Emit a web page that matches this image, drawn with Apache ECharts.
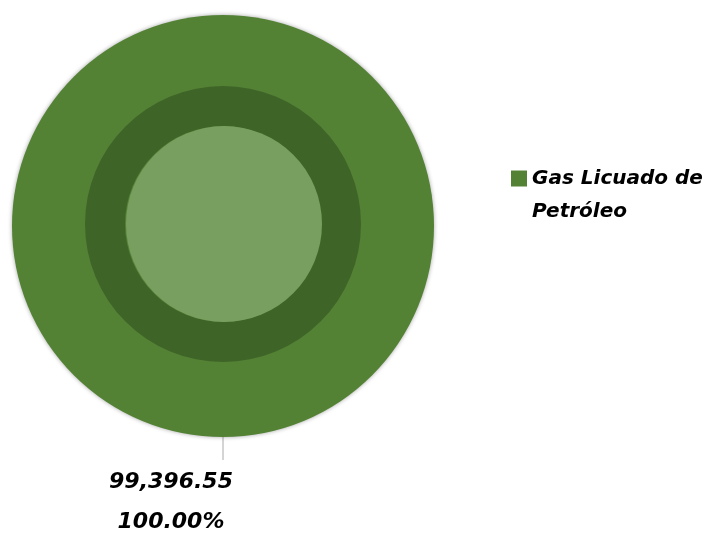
<!DOCTYPE html>
<html><head><meta charset="utf-8">
<script src="https://cdn.jsdelivr.net/npm/echarts@6/dist/echarts.min.js"></script>
<style>html,body{margin:0;padding:0;background:#fff}#c{width:725px;height:535px}</style>
</head><body><div id="c"></div>
<script>
const categories = ['Gas Licuado de Petróleo'];
const values = [99396.55];
const colors = ['#548235'];

const data = categories.map((n, i) => ({ name: n, value: values[i] }));
const fmt = v => v.toLocaleString('en-US', { minimumFractionDigits: 2, maximumFractionDigits: 2 });
const FONT = '"DejaVu Sans", sans-serif';

const chart = echarts.init(document.getElementById('c'));
chart.setOption({
  animation: false,
  color: colors,
  legend: {
    data: categories,
    orient: 'vertical',
    left: 506, top: 124,
    itemWidth: 16, itemHeight: 16,
    icon: 'rect',
    formatter: n => '\n' + n,
    textStyle: { fontFamily: FONT, fontSize: 20, fontWeight: 'bold', fontStyle: 'italic', color: '#000', width: 195, overflow: 'break', lineHeight: 33 }
  },
  series: [
    {
      type: 'pie', center: [223, 226], radius: [0, 211],
      data: data,
      itemStyle: { color: colors[0], shadowBlur: 4, shadowColor: 'rgba(0,0,0,0.35)' },
      label: {
        show: true, position: 'outside',
        formatter: p => fmt(p.value) + '\n' + p.percent.toFixed(2) + '%',
        fontFamily: FONT, fontSize: 22, fontWeight: 'bold', fontStyle: 'italic', color: '#000', lineHeight: 40
      },
      labelLayout: function (params) {
        const pts = params.labelLinePoints;
        if (!pts) return {};
        const end = pts[1];
        return {
          x: end[0] - 52, y: end[1] + 2, align: 'center', verticalAlign: 'top',
          labelLinePoints: [pts[0], end, end]
        };
      },
      labelLine: { show: true, length: 23, length2: 0, lineStyle: { color: '#aaa', width: 1 } },
      emphasis: { disabled: true }
    },
    {
      type: 'pie', center: [223, 224], radius: [98, 138], silent: true,
      data: data, label: { show: false }, labelLine: { show: false },
      itemStyle: { color: '#3f6428' }, emphasis: { disabled: true }, legendHoverLink: false
    },
    {
      type: 'pie', center: [224, 224], radius: [0, 98], silent: true,
      data: data, label: { show: false }, labelLine: { show: false },
      itemStyle: { color: '#789f5f' }, emphasis: { disabled: true }, legendHoverLink: false
    }
  ]
});
</script></body></html>
